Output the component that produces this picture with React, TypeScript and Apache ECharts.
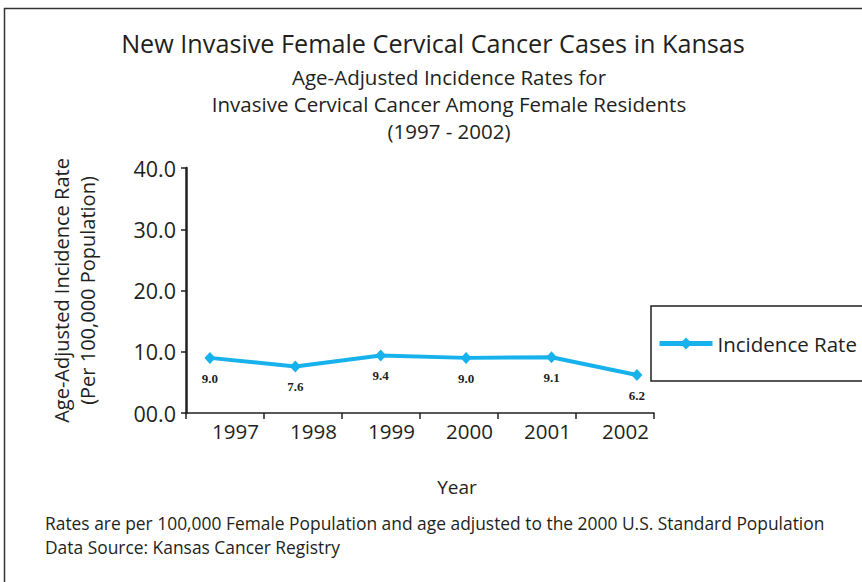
import React, { useEffect, useRef } from "react";
import * as echarts from "echarts";

const years: string[] = ["1997", "1998", "1999", "2000", "2001", "2002"];
const rates: number[] = [9.0, 7.6, 9.4, 9.0, 9.1, 6.2];
const yTicks: number[] = [0, 10, 20, 30, 40];

const titleText = "New Invasive Female Cervical Cancer Cases in Kansas";
const subtitleLines: string[] = [
  "Age-Adjusted Incidence Rates for",
  "Invasive Cervical Cancer Among Female Residents",
  "(1997 - 2002)",
];
const yAxisNameLines: string[] = ["Age-Adjusted Incidence Rate", "(Per 100,000 Population)"];
const xAxisName = "Year";
const seriesName = "Incidence Rate";
const footnoteLines: string[] = [
  "Rates are per 100,000 Female Population and age adjusted to the 2000 U.S. Standard Population",
  "Data Source: Kansas Cancer Registry",
];

const FONT = "Open Sans";
const INK = "#231f20";
const BLUE = "#17b1eb";

export default function App() {
  const ref = useRef<HTMLDivElement>(null);

  useEffect(() => {
    document.body.style.margin = "0";
    if (!ref.current) return;
    const chart = echarts.init(ref.current, undefined, { renderer: "svg" });
    chart.setOption({
      animation: false,
      backgroundColor: "#ffffff",
      textStyle: { fontFamily: FONT, color: INK },
      title: [
        {
          text: titleText,
          left: 428,
          top: 25,
          textAlign: "center",
          textStyle: { fontFamily: FONT, fontSize: 25.2, fontWeight: "normal", color: INK },
        },
        {
          text: subtitleLines.join("\n"),
          left: 444,
          top: 58,
          textAlign: "center",
          textStyle: { fontFamily: FONT, fontSize: 20.5, fontWeight: "normal", color: INK, lineHeight: 27 },
        },
      ],
      legend: {
        left: 651,
        top: 306,
        orient: "vertical",
        data: [seriesName],
        borderColor: INK,
        borderWidth: 1.5,
        padding: [27, 40, 27, 6],
        itemWidth: 53,
        itemHeight: 15,
        lineStyle: { width: 5 },
        textStyle: { fontFamily: FONT, fontSize: 20.5, color: INK },
      },
      grid: { left: 186, top: 168, width: 468, height: 245, containLabel: false },
      xAxis: [
        {
          type: "category",
          data: years,
          boundaryGap: true,
          axisLine: { show: true, lineStyle: { color: INK, width: 1.5 } },
          axisTick: { show: true, alignWithLabel: false, length: 6, lineStyle: { color: INK, width: 1.5 } },
          axisLabel: {
            fontFamily: FONT,
            fontSize: 20.5,
            color: INK,
            margin: 7,
            padding: [0, 0, 0, 21],
          },
          splitLine: { show: false },
        },
        {
          type: "value",
          show: false,
          min: -0.28,
          max: 5.2,
          splitLine: { show: false },
        },
      ],
      yAxis: {
        type: "value",
        min: yTicks[0],
        max: yTicks[yTicks.length - 1],
        interval: 10,
        name: yAxisNameLines.join("\n"),
        nameLocation: "middle",
        nameRotate: 90,
        nameGap: 86,
        nameTextStyle: { fontFamily: FONT, fontSize: 20, color: INK, lineHeight: 26 },
        axisLine: { show: true, onZero: false, lineStyle: { color: INK, width: 2.5 } },
        axisTick: { show: true, length: 5, lineStyle: { color: INK, width: 1.5 } },
        axisLabel: {
          fontFamily: FONT,
          fontSize: 21.5,
          color: INK,
          margin: 10,
          formatter: (v: number) => v.toFixed(1).padStart(4, "0"),
        },
        splitLine: { show: false },
      },
      series: [
        {
          name: seriesName,
          type: "line",
          xAxisIndex: 1,
          data: rates.map((r, i) => [i, r]),
          symbol: "diamond",
          symbolSize: [11, 12],
          color: BLUE,
          lineStyle: { color: BLUE, width: 4 },
          itemStyle: { color: BLUE },
          label: {
            show: true,
            position: "bottom",
            distance: 8,
            fontFamily: "Liberation Serif",
            fontWeight: "bold",
            fontSize: 13,
            color: INK,
            formatter: (p: any) => Number(p.value[1]).toFixed(1),
          },
        },
      ],
      graphic: [
        {
          type: "line",
          shape: { x1: 4.5, y1: 8, x2: 4.5, y2: 582 },
          style: { stroke: "#333", lineWidth: 1.5 },
        },
        {
          type: "line",
          shape: { x1: 4, y1: 8.5, x2: 862, y2: 8.5 },
          style: { stroke: "#333", lineWidth: 1.5 },
        },
        {
          type: "text",
          x: 457,
          y: 477,
          style: { text: xAxisName, fontFamily: FONT, fontSize: 19, fill: INK, align: "center" },
        },
        {
          type: "text",
          x: 45,
          y: 511,
          style: {
            text: footnoteLines.join("\n"),
            fontFamily: FONT,
            fontSize: 17.4,
            lineHeight: 24,
            fill: INK,
          },
        },
      ],
    });
    return () => chart.dispose();
  }, []);

  return <div ref={ref} style={{ width: 862, height: 582 }} />;
}
